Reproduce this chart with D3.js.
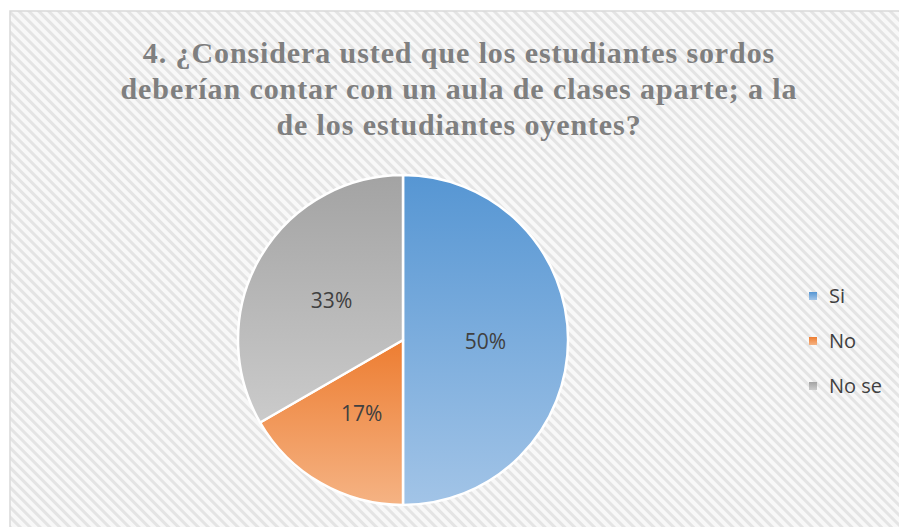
<!DOCTYPE html>
<html>
<head>
<meta charset="utf-8">
<script src="https://cdn.jsdelivr.net/npm/d3@7"></script>
<style>
  body { margin: 0; background: #fff; }
  svg { display: block; }
</style>
</head>
<body>
<svg width="899" height="527"></svg>
<script>
var categories = ["Si", "No", "No se"];
var values = [3, 1, 2];
var labels = ["50%", "17%", "33%"];
var titleLines = [
    "4. ¿Considera usted que los estudiantes sordos",
    "deberían contar con un aula de clases aparte; a la",
    "de los estudiantes oyentes?"
];

var svg = d3.select("svg"),
    width = +svg.attr("width"),
    height = +svg.attr("height"),
    cx = 403, cy = 340, radius = 165;

var colorTop = d3.scaleOrdinal().domain(categories).range(["#5696d3", "#ed7d31", "#a3a3a3"]),
    colorBottom = d3.scaleOrdinal().domain(categories).range(["#a2c4e7", "#f5b384", "#cbcbcb"]);

var defs = svg.append("defs");

// hatch background, stripes running top-left to bottom-right
var pat = defs.append("pattern")
    .attr("id", "hatch")
    .attr("width", 7)
    .attr("height", 7)
    .attr("patternUnits", "userSpaceOnUse")
    .attr("patternTransform", "rotate(45)");
pat.append("rect").attr("width", 7).attr("height", 7).attr("fill", "#f8f8f8");
pat.append("rect").attr("width", 7).attr("height", 3).attr("fill", "#e4e4e4");

categories.forEach(function(c, i) {
    var grad = defs.append("linearGradient")
        .attr("id", "grad" + i)
        .attr("x1", 0).attr("y1", 0).attr("x2", 0).attr("y2", 1);
    grad.append("stop").attr("offset", "0%").attr("stop-color", colorTop(c));
    grad.append("stop").attr("offset", "100%").attr("stop-color", colorBottom(c));
});

svg.append("rect")
    .attr("x", 10).attr("y", 11)
    .attr("width", width + 10).attr("height", height + 10)
    .attr("fill", "url(#hatch)")
    .attr("stroke", "#d9d9d9")
    .attr("stroke-width", 1.5);

// title
svg.append("g")
    .selectAll("text")
    .data(titleLines)
    .enter().append("text")
    .attr("x", 459)
    .attr("y", function(d, i) { return 63 + i * 36; })
    .attr("text-anchor", "middle")
    .style("font", "bold 30px 'Liberation Serif', serif")
    .style("letter-spacing", "0.9px")
    .style("fill", "#7f7f7f")
    .text(function(d) { return d; });

// pie
var pie = d3.pie().sort(null).value(function(d) { return d; });
var arc = d3.arc().innerRadius(0).outerRadius(radius);
var labelArc = d3.arc().innerRadius(radius * 0.5).outerRadius(radius * 0.5);

var arcs = pie(values);

var g = svg.append("g").attr("transform", "translate(" + cx + "," + cy + ")");

g.selectAll(".slice")
    .data(arcs)
    .enter().append("path")
    .attr("class", "slice")
    .attr("d", arc)
    .attr("fill", function(d, i) { return "url(#grad" + i + ")"; })
    .attr("stroke", "#fff")
    .attr("stroke-width", 2.5)
    .attr("stroke-linejoin", "round");

g.selectAll(".lbl")
    .data(arcs)
    .enter().append("text")
    .attr("class", "lbl")
    .attr("transform", function(d) {
        var c = labelArc.centroid(d);
        return "translate(" + c[0] + "," + (c[1] + 2) + ")";
    })
    .attr("dy", "0.35em")
    .attr("text-anchor", "middle")
    .style("font", "21px 'Open Sans', sans-serif")
    .style("fill", "#404040")
    .text(function(d, i) { return labels[i]; });

// legend
var legend = svg.append("g")
    .selectAll(".legend")
    .data(categories)
    .enter().append("g")
    .attr("class", "legend")
    .attr("transform", function(d, i) { return "translate(809," + (296 + i * 45) + ")"; });

legend.append("rect")
    .attr("x", 0).attr("y", -4)
    .attr("width", 8).attr("height", 8)
    .attr("fill", function(d, i) { return "url(#grad" + i + ")"; });

legend.append("text")
    .attr("x", 20)
    .attr("dy", "0.35em")
    .style("font", "20px 'Open Sans', sans-serif")
    .style("fill", "#404040")
    .text(function(d) { return d; });
</script>
</body>
</html>
